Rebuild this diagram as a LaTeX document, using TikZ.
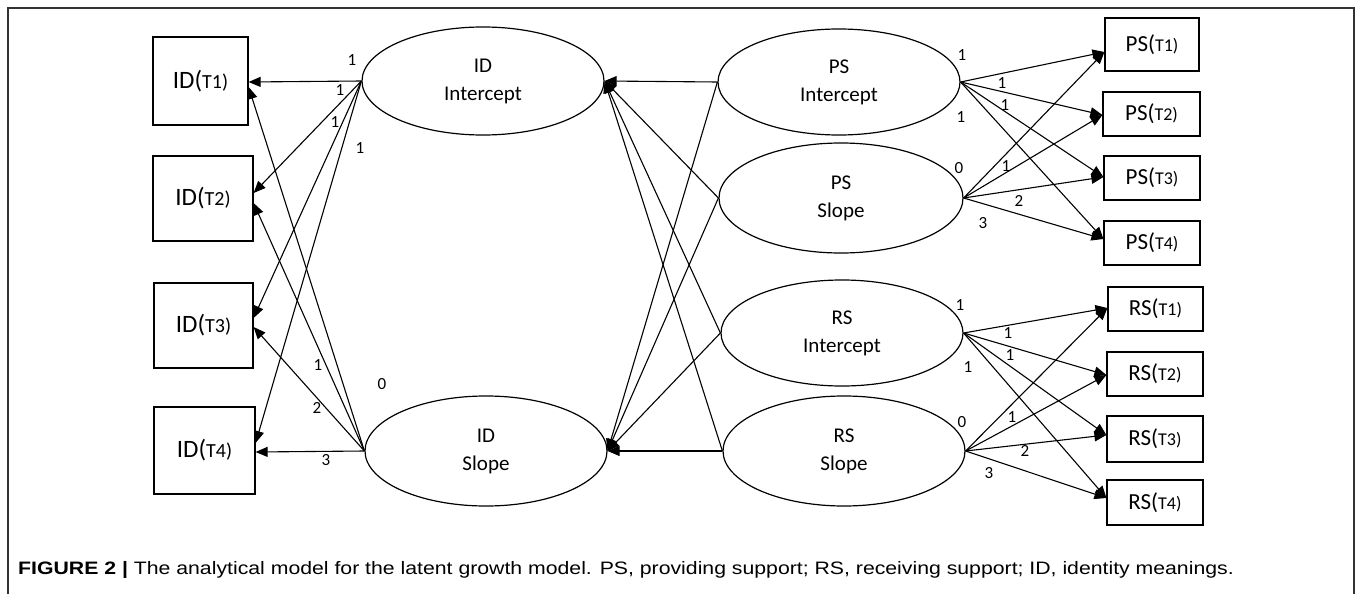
\documentclass[tikz,border=0pt]{standalone}
\usepackage{fontspec}
\setmainfont{Carlito}
\newfontfamily\capfont{Liberation Sans}
\usetikzlibrary{shapes.geometric,arrows.meta,calc}
\begin{document}
\begin{tikzpicture}[x=1pt,y=-1pt,
  lat/.style={ellipse,draw,line width=1.2pt,inner sep=0pt,minimum width=242pt,minimum height=108pt,align=center,font=\fontsize{21}{28}\selectfont},
  obs/.style={draw,line width=1.2pt,inner sep=0pt},
  arr/.style={line width=1.1pt,-{Triangle[length=12pt,width=10pt]}},
  lab/.style={font=\fontsize{17}{17}\selectfont,inner sep=0pt}]
\useasboundingbox (0,0) rectangle (1357,594);
\draw[line width=1.3pt,black!80] (8,600) -- (8,8) -- (1354,8) -- (1354,600);

% latent variables
\node[lat,minimum height=108pt] (IDI) at (483,81) {ID\\Intercept};
\node[lat,minimum height=110pt] (IDS) at (486,451) {ID\\Slope};
\node[lat,minimum height=106pt] (PSI) at (839,82) {PS\\Intercept};
\node[lat,minimum height=110pt,minimum width=244pt] (PSS) at (841,198) {PS\\Slope};
\node[lat,minimum height=106pt] (RSI) at (842,333) {RS\\Intercept};
\node[lat,minimum height=110pt] (RSS) at (844,451) {RS\\Slope};

% observed ID
\newcommand{\obsID}[1]{{\fontsize{25}{25}\selectfont ID(}{\fontsize{20}{20}\selectfont T#1)}}
\newcommand{\obsX}[2]{{\fontsize{23}{23}\selectfont #1(}{\fontsize{18}{18}\selectfont T#2)}}
\node[obs,minimum width=95pt,minimum height=88pt] (ID1) at (200.5,81) {\obsID{1}};
\node[obs,minimum width=100pt,minimum height=85pt] (ID2) at (203,198.5) {\obsID{2}};
\node[obs,minimum width=99pt,minimum height=85pt] (ID3) at (203.5,325.5) {\obsID{3}};
\node[obs,minimum width=101pt,minimum height=87pt] (ID4) at (204.5,450.5) {\obsID{4}};

% observed PS / RS
\node[obs,minimum width=94pt,minimum height=53pt] (PS1) at (1152,44.5) {\obsX{PS}{1}};
\node[obs,minimum width=97pt,minimum height=44pt] (PS2) at (1151.5,114) {\obsX{PS}{2}};
\node[obs,minimum width=96pt,minimum height=44pt] (PS3) at (1152,178) {\obsX{PS}{3}};
\node[obs,minimum width=96pt,minimum height=44pt] (PS4) at (1152,243) {\obsX{PS}{4}};
\node[obs,minimum width=95pt,minimum height=44pt] (RS1) at (1155.5,309) {\obsX{RS}{1}};
\node[obs,minimum width=96pt,minimum height=44pt] (RS2) at (1155,374) {\obsX{RS}{2}};
\node[obs,minimum width=96pt,minimum height=46pt] (RS3) at (1155,439) {\obsX{RS}{3}};
\node[obs,minimum width=96pt,minimum height=45pt] (RS4) at (1155,502.5) {\obsX{RS}{4}};

% left connectors
\draw[arr] (IDI.west) -- ($(ID1.east)+(0,1)$);
\draw[arr] (IDI.west) -- ($(ID2.east)+(0,-5.5)$);
\draw[arr] (IDI.west) -- ($(ID3.east)+(0,-7.5)$);
\draw[arr] (IDI.west) -- ($(ID4.east)+(0,-7.5)$);
\draw[arr] (IDS.west) -- ($(ID1.east)+(0,6)$);
\draw[arr] (IDS.west) -- ($(ID2.east)+(0,4.5)$);
\draw[arr] (IDS.west) -- ($(ID3.east)+(0,1.5)$);
\draw[arr] (IDS.west) -- ($(ID4.east)+(0,1.5)$);

% middle connectors
\foreach \s in {PSI,PSS,RSI,RSS}{
  \draw[arr] (\s.west) -- (IDI.east);
  \draw[arr] (\s.west) -- (IDS.east);
}

% right connectors
\foreach \t/\o in {PS1/7.5,PS2/1,PS3/-1,PS4/-4}{
  \draw[arr] (PSI.east) -- ($(\t.west)+(0,\o)$);
  \draw[arr] (PSS.east) -- ($(\t.west)+(0,\o)$);
}
\foreach \t/\o in {RS1/-1,RS2/1,RS3/-4,RS4/-4.5}{
  \draw[arr] (RSI.east) -- ($(\t.west)+(0,\o)$);
  \draw[arr] (RSS.east) -- ($(\t.west)+(0,\o)$);
}

% loadings, ID
\node[lab] (l1) at (352,60) {1};
\node[lab] (l2) at (340,90) {1};
\node[lab] (l3) at (335,122) {1};
\node[lab] (l4) at (360,148) {1};
\node[lab] (l5) at (318,365) {1};
\node[lab] (l6) at (382,384) {0};
\node[lab] (l7) at (317,408) {2};
\node[lab] (l8) at (326,460) {3};
% loadings, PS
\node[lab] (p1) at (962,55) {1};
\node[lab] (p2) at (1002,83) {1};
\node[lab] (p3) at (1005,105) {1};
\node[lab] (p4) at (961,117) {1};
\node[lab] (p5) at (959,168) {0};
\node[lab] (p6) at (1006,166) {1};
\node[lab] (p7) at (1019,201) {2};
\node[lab] (p8) at (983,223) {3};
% loadings, RS
\node[lab] (r1) at (960,305) {1};
\node[lab] (r2) at (1008,333) {1};
\node[lab] (r3) at (1010,355) {1};
\node[lab] (r4) at (968,367) {1};
\node[lab] (r5) at (962,422) {0};
\node[lab] (r6) at (1012,417) {1};
\node[lab] (r7) at (1025,451) {2};
\node[lab] (r8) at (989,473) {3};

% caption
\node[anchor=base west,inner sep=0pt,font=\capfont\fontsize{18}{18}\selectfont] (cap) at (18,574)
 {\scalebox{1.18}[1]{\textbf{FIGURE 2 |} The analytical model for the latent growth model. PS, providing support; RS, receiving support; ID, identity meanings.}};
\end{tikzpicture}
\end{document}
